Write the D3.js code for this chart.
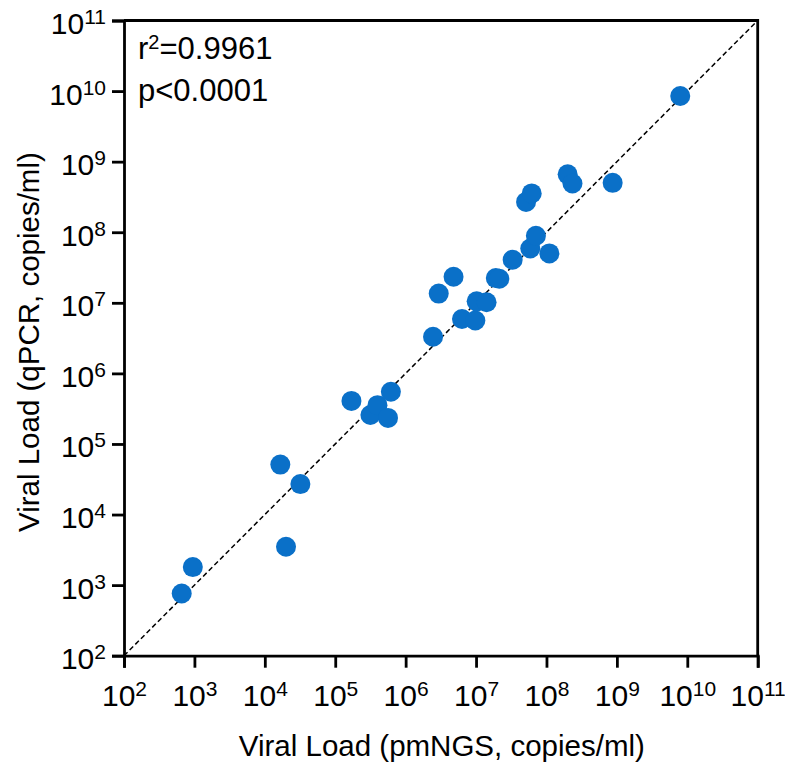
<!DOCTYPE html>
<html>
<head>
<meta charset="utf-8">
<script src="https://cdn.jsdelivr.net/npm/d3@7"></script>
<style>
    body { margin: 0; background: #fff; }
    svg text { font-family: "Liberation Sans", Arial, Helvetica, sans-serif; fill: #000; }
</style>
</head>
<body>
<div id="chart"></div>
<script>
// viral load per sample, copies/ml
var pmngs = [6.6e2, 9.5e2, 1.66e4, 2.0e4, 3.2e4, 1.7e5, 3.16e5, 3.98e5, 5.62e5, 6.17e5,
             2.45e6, 2.95e6, 4.79e6, 6.31e6, 9.77e6, 1.02e7, 1.41e7, 1.91e7, 2.14e7, 3.31e7,
             5.89e7, 7.08e7, 1.10e8, 5.13e7, 6.17e7, 2.0e8, 2.34e8, 8.71e8, 7.94e9];
var qpcr  = [7.6e2, 1.8e3, 5.1e4, 3.5e3, 2.7e4, 4.07e5, 2.57e5, 3.55e5, 2.34e5, 5.5e5,
             3.31e6, 1.35e7, 2.34e7, 5.89e6, 5.62e6, 1.05e7, 1.02e7, 2.24e7, 2.19e7, 4.07e7,
             5.89e7, 8.91e7, 5.01e7, 2.69e8, 3.55e8, 6.61e8, 4.90e8, 5.01e8, 8.51e9];

var tick_exps = [2, 3, 4, 5, 6, 7, 8, 9, 10, 11];
var x_title = "Viral Load (pmNGS, copies/ml)";
var y_title = "Viral Load (qPCR, copies/ml)";
var stats_lines = [["r", "2", "=0.9961"], ["p<0.0001", "", ""]];

var width = 785, height = 762;
var margin = {left: 124, top: 20.5, right: 27.3, bottom: 106.3};
var w = width - margin.left - margin.right;
var h = height - margin.top - margin.bottom;

var svg = d3.select("#chart").append("svg")
    .attr("width", width)
    .attr("height", height);

var g = svg.append("g")
    .attr("transform", "translate(" + margin.left + "," + margin.top + ")");

var x = d3.scaleLog().domain([1e2, 1e11]).range([0, w]);
var y = d3.scaleLog().domain([1e2, 1e11]).range([h, 0]);

var tick_vals = tick_exps.map(function(e) { return Math.pow(10, e); });

// identity line
g.append("line")
    .attr("x1", x(1e2)).attr("y1", y(1e2))
    .attr("x2", x(1e11)).attr("y2", y(1e11))
    .attr("stroke", "#000")
    .attr("stroke-width", 1.5)
    .attr("stroke-dasharray", "5,3");

// frame on the top and right
g.append("path")
    .attr("d", "M0,0H" + w + "V" + h)
    .attr("fill", "none")
    .attr("stroke", "#000")
    .attr("stroke-width", 2.8);

var x_axis = g.append("g")
    .attr("transform", "translate(0," + h + ")")
    .call(d3.axisBottom(x).tickValues(tick_vals).tickSize(12).tickFormat(""));

var y_axis = g.append("g")
    .call(d3.axisLeft(y).tickValues(tick_vals).tickSize(12).tickFormat(""));

[x_axis, y_axis].forEach(function(ax) {
    ax.select(".domain").attr("stroke-width", 2.8);
    ax.selectAll(".tick line").attr("stroke-width", 2.8);
});

// power-of-ten labels with superscripts
function power_label(sel, e) {
    sel.append("tspan").text("10");
    sel.append("tspan")
        .attr("dy", -10)
        .attr("font-size", 21)
        .text(e);
}

x_axis.selectAll(".tick").each(function(d, i) {
    d3.select(this).append("text")
        .attr("y", 50)
        .attr("text-anchor", "middle")
        .attr("font-size", 30)
        .call(power_label, tick_exps[i]);
});

y_axis.selectAll(".tick").each(function(d, i) {
    d3.select(this).append("text")
        .attr("x", -18)
        .attr("y", 13)
        .attr("text-anchor", "end")
        .attr("font-size", 30)
        .call(power_label, tick_exps[i]);
});

// points
g.selectAll("circle")
    .data(pmngs)
    .enter()
    .append("circle")
    .attr("cx", function(d) { return x(d); })
    .attr("cy", function(d, i) { return y(qpcr[i]); })
    .attr("r", 10)
    .attr("fill", "#0a70c8");

// stats text
stats_lines.forEach(function(parts, i) {
    var t = g.append("text")
        .attr("x", 14)
        .attr("y", 38.5 + i * 42)
        .attr("font-size", 31);
    t.append("tspan").text(parts[0]);
    if (parts[1]) {
        t.append("tspan").attr("dy", -10).attr("font-size", 20).text(parts[1]);
        t.append("tspan").attr("dy", 10).text(parts[2]);
    }
});

// axis titles
svg.append("text")
    .attr("x", margin.left + w / 2 + 1)
    .attr("y", 756)
    .attr("text-anchor", "middle")
    .attr("font-size", 29.5)
    .text(x_title);

svg.append("text")
    .attr("transform", "translate(39," + (margin.top + h / 2 + 4) + ") rotate(-90)")
    .attr("text-anchor", "middle")
    .attr("font-size", 29.5)
    .text(y_title);
</script>
</body>
</html>
